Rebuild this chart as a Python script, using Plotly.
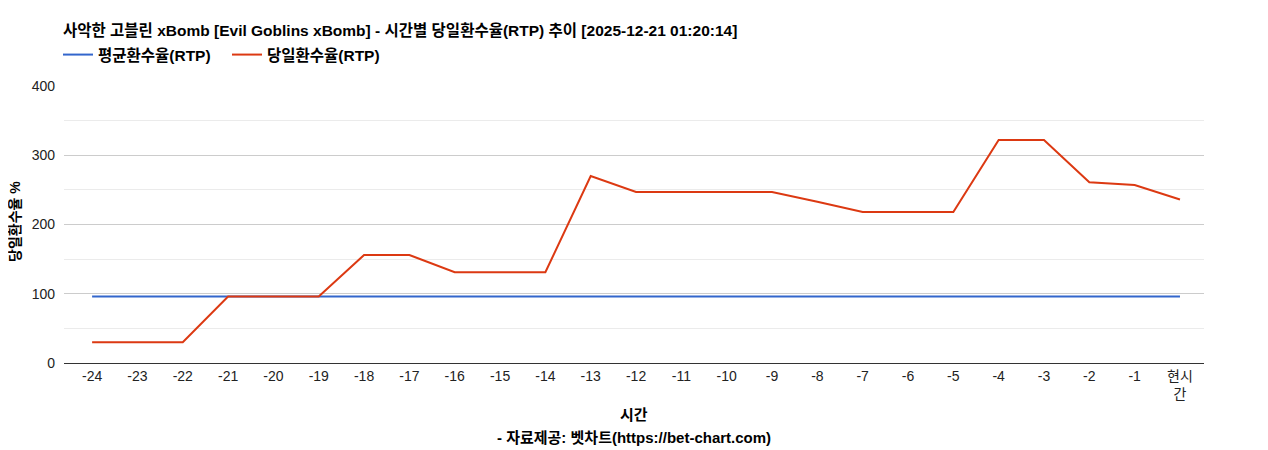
import plotly.graph_objects as go

hours = ["-24", "-23", "-22", "-21", "-20", "-19", "-18", "-17", "-16", "-15", "-14", "-13",
         "-12", "-11", "-10", "-9", "-8", "-7", "-6", "-5", "-4", "-3", "-2", "-1", "현시간"]
tick_labels = hours[:-1] + ["현시<br>간"]
avg_rtp = [96] * 25
day_rtp = [30, 30, 30, 96, 96, 96, 156, 156, 131, 131, 131, 270,
           247, 247, 247, 247, 233, 218, 218, 218, 322, 322, 261, 257, 236]

FONT = "Liberation Sans, Arial, Noto Sans CJK KR"
OFF = 8  # page body margin

# target page-pixel geometry of the plot area
PL, PR, PT, PB = 64, 1204, 86, 363
W, H = 1268, 450

fig = go.Figure()
fig.add_trace(go.Scatter(x=hours, y=avg_rtp, mode="lines", name="<b>평균환수율(RTP)</b>",
                         line=dict(color="#3366cc", width=2)))
fig.add_trace(go.Scatter(x=hours, y=day_rtp, mode="lines", name="<b>당일환수율(RTP)</b>",
                         line=dict(color="#dc3912", width=2)))

ph = PB - PT
pw = PR - PL

def py(page_y):
    return (PB - page_y) / ph

def px(page_x):
    return (page_x - PL) / pw

fig.update_layout(
    width=W, height=H,
    margin=dict(l=PL - OFF, r=W - (PR - OFF), t=PT - OFF, b=H - (PB - OFF), pad=0),
    paper_bgcolor="white", plot_bgcolor="white",
    font=dict(family=FONT, size=14, color="#222"),
    showlegend=True,
    title=dict(text="<b>사악한 고블린 xBomb [Evil Goblins xBomb] - 시간별 당일환수율(RTP) 추이 [2025-12-21 01:20:14]</b>",
               xref="container", yref="container", x=(63 - OFF) / W, xanchor="left",
               y=1 - (31 - OFF) / H, yanchor="middle", font=dict(size=15.5, color="#000")),
    legend=dict(orientation="h", x=px(58), xanchor="left", y=py(55), yanchor="middle",
                font=dict(size=15.5, color="#000"), itemwidth=30, traceorder="normal",
                entrywidth=124, entrywidthmode="pixels",
                bgcolor="rgba(0,0,0,0)"),
    xaxis=dict(type="category", tickmode="array", tickvals=hours, ticktext=tick_labels,
               range=[-0.62, 24.53],
               showgrid=False, showline=True, linecolor="#333", linewidth=1,
               tickfont=dict(size=14, color="#222"), ticks="", fixedrange=True),
    yaxis=dict(range=[0, 400], dtick=100, showgrid=True, gridcolor="#cccccc", gridwidth=1,
               zeroline=False, minor=dict(dtick=50, showgrid=True, gridcolor="#ebebeb"),
               tickfont=dict(size=14, color="#222"), ticklabelstandoff=8, fixedrange=True),
    annotations=[
        dict(text="<b>당일환수율 %</b>", xref="paper", yref="paper", x=px(15), y=py(222),
             textangle=-90, showarrow=False, font=dict(size=14, color="#000"),
             xanchor="center", yanchor="middle"),
        dict(text="<b>시간</b>", xref="paper", yref="paper", x=0.5, y=py(414),
             showarrow=False, font=dict(size=15, color="#000"), xanchor="center", yanchor="middle"),
        dict(text="<b>- 자료제공: 벳차트(https://bet-chart.com)</b>", xref="paper", yref="paper",
             x=0.5, y=py(437), showarrow=False, font=dict(size=15, color="#000"),
             xanchor="center", yanchor="middle"),
    ],
)

fig.write_html("out.html")
